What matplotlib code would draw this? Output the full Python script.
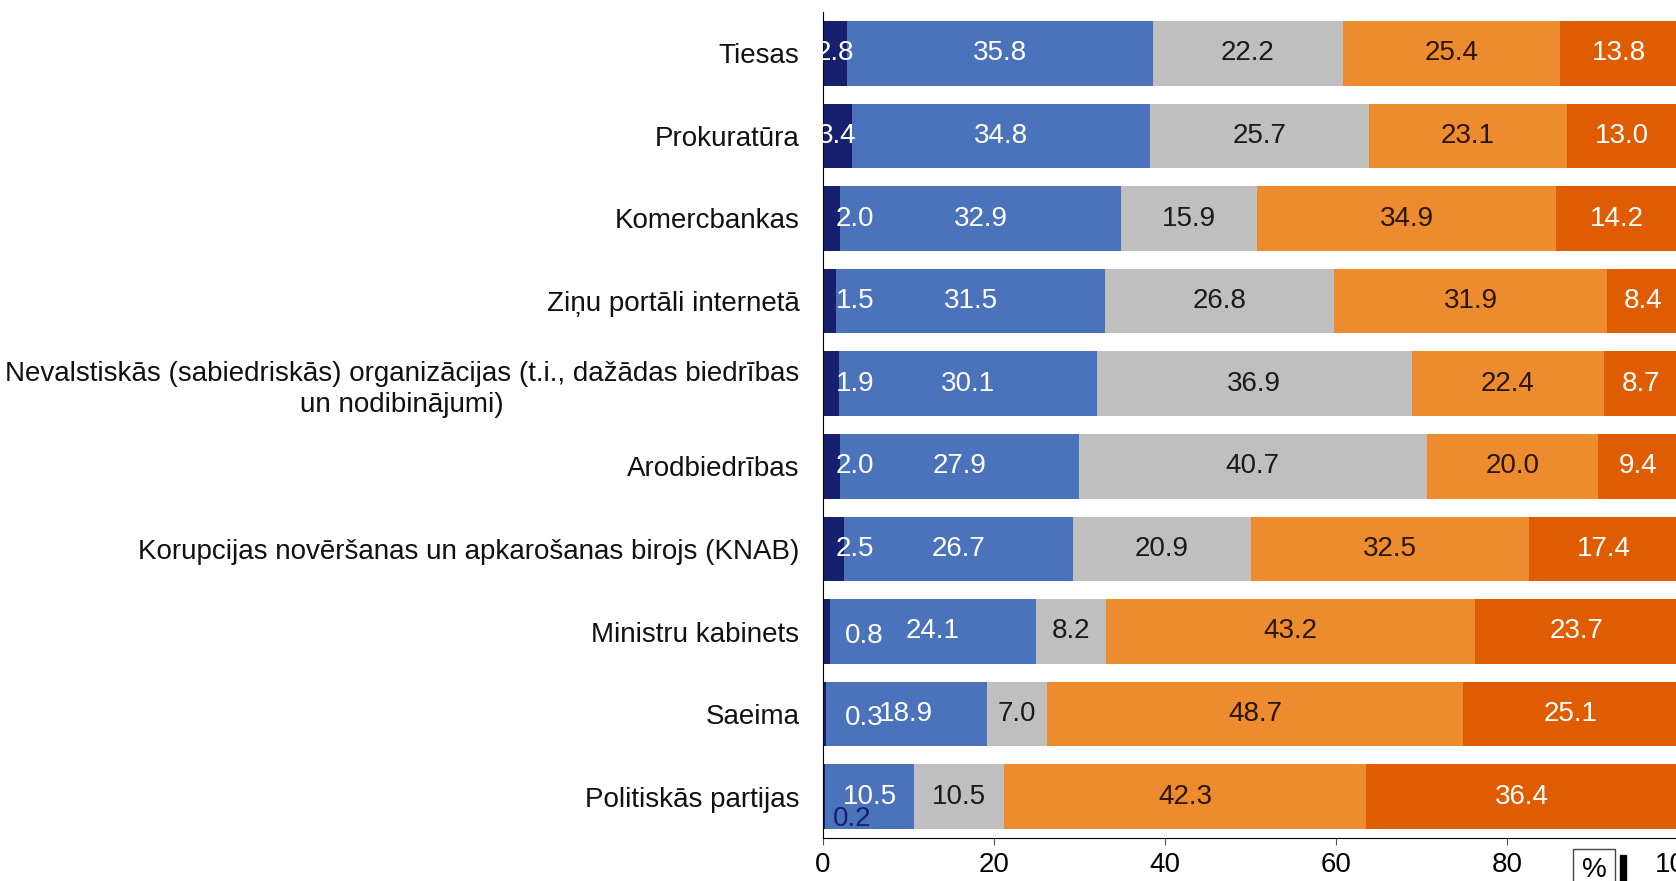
import matplotlib
matplotlib.use("Agg")
import matplotlib.pyplot as plt
import numpy as np

plt.rcParams['font.family'] = ['Liberation Sans', 'DejaVu Sans']

categories = [
    "Tiesas",
    "Prokuratūra",
    "Komercbankas",
    "Ziņu portāli internetā",
    "Nevalstiskās (sabiedriskās) organizācijas (t.i., dažādas biedrības\nun nodibinājumi)",
    "Arodbiedrības",
    "Korupcijas novēršanas un apkarošanas birojs (KNAB)",
    "Ministru kabinets",
    "Saeima",
    "Politiskās partijas",
]
s_navy = [2.8, 3.4, 2.0, 1.5, 1.9, 2.0, 2.5, 0.8, 0.3, 0.2]
s_blue = [35.8, 34.8, 32.9, 31.5, 30.1, 27.9, 26.7, 24.1, 18.9, 10.5]
s_grey = [22.2, 25.7, 15.9, 26.8, 36.9, 40.7, 20.9, 8.2, 7.0, 10.5]
s_orange = [25.4, 23.1, 34.9, 31.9, 22.4, 20.0, 32.5, 43.2, 48.7, 42.3]
s_dark = [13.8, 13.0, 14.2, 8.4, 8.7, 9.4, 17.4, 23.7, 25.1, 36.4]
xticks = [0, 20, 40, 60, 80, 100]

series = [s_navy, s_blue, s_grey, s_orange, s_dark]
colors = ["#17206e", "#4a73bb", "#bfbfbf", "#ec8c2e", "#e05c02"]
txt_colors = ["white", "white", "#1a1a1a", "#2a1608", "white"]

fig = plt.figure(figsize=(16.76, 8.81), dpi=100)
ax = fig.add_axes([823 / 1676, 43 / 881, (1678 - 823) / 1676, (838 - 12) / 881])

y = np.arange(len(categories))
left = np.zeros(len(categories))
fs = 20
for si, (vals, col, tc) in enumerate(zip(series, colors, txt_colors)):
    vals = np.array(vals)
    ax.barh(y, vals, left=left, height=0.78, color=col, edgecolor='none')
    for i, v in enumerate(vals):
        cx = left[i] + v / 2
        ha = 'center'
        yy = y[i]
        c = tc
        if si == 0:
            if v < 0.25:
                cx, yy, c = 3.4, y[i] + 0.27, "#17206e"
            elif v < 1:
                cx, ha, yy = 2.6, 'left', y[i] + 0.05
            elif v <= 2.5:
                cx, ha = 1.5, 'left'
        ax.text(cx, yy, f"{v:.1f}", ha=ha, va='center', color=c,
                fontsize=fs, clip_on=True)
    left += vals

ax.set_xlim(0, 100)
ax.set_ylim(len(categories) - 0.5, -0.5)
ax.set_yticks(y)
ax.set_yticklabels(categories, fontsize=fs, multialignment='center', color='#111111')
for t in ax.get_yticklabels():
    t.set_linespacing(1.27)
ax.tick_params(axis='y', length=0, pad=17)
ax.set_xticks(xticks)
ax.set_xticklabels([str(t) for t in xticks], fontsize=fs)
ax.tick_params(axis='x', length=5, pad=5, color='#555555')
for s in ['top', 'right']:
    ax.spines[s].set_visible(False)
ax.spines['left'].set_color('black')
ax.spines['bottom'].set_color('black')

fig.text(1594 / 1676, 1 - 870 / 881, "%", ha='center', va='center', fontsize=fs,
         bbox=dict(boxstyle='square,pad=0.3', fc='white', ec='#444444', lw=1))
fig.patches.append(plt.Rectangle((1620 / 1676, 0), 6 / 1676, 26 / 881,
                                 transform=fig.transFigure, color='black'))

fig.savefig("out.png", dpi=100)
